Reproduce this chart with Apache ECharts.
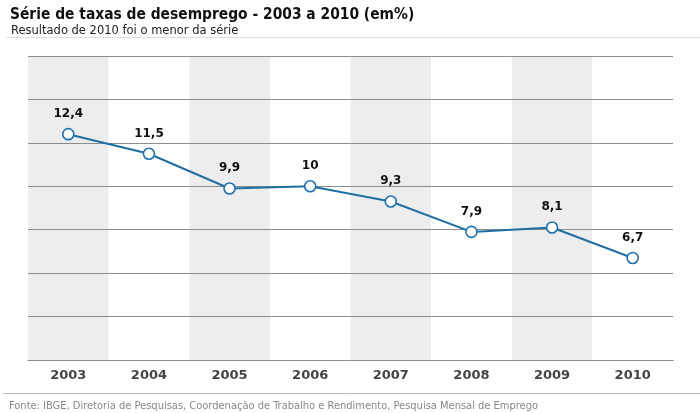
<!DOCTYPE html>
<html>
<head>
<meta charset="utf-8">
<script src="https://cdn.jsdelivr.net/npm/echarts@6/dist/echarts.min.js"></script>
<style>
  html, body { margin: 0; padding: 0; background: #fff; }
  #chart { width: 700px; height: 413px; }
</style>
</head>
<body>
<div id="chart"></div>
<script>
// anos e taxas de desemprego (em %)
var anos = ['2003', '2004', '2005', '2006', '2007', '2008', '2009', '2010'];
var taxas = [12.4, 11.5, 9.9, 10, 9.3, 7.9, 8.1, 6.7];

var titulo = 'Série de taxas de desemprego - 2003 a 2010 (em%)';
var subtitulo = 'Resultado de 2010 foi o menor da série';
var fonte = 'Fonte: IBGE, Diretoria de Pesquisas, Coordenação de Trabalho e Rendimento, Pesquisa Mensal de Emprego';

var chart = echarts.init(document.getElementById('chart'));
chart.setOption({
  animation: false,
  title: [
    {
      text: titulo,
      left: 5, top: 2,
      textStyle: { fontFamily: 'DejaVu Sans Condensed, DejaVu Sans', fontSize: 15.4, fontWeight: 'bold', color: '#111' }
    },
    {
      text: subtitulo,
      left: 6, top: 20,
      textStyle: { fontFamily: 'DejaVu Sans', fontSize: 11.5, fontWeight: 'normal', color: '#222' }
    },
    {
      text: fonte,
      left: 4, top: 396,
      textStyle: { fontFamily: 'DejaVu Sans Condensed, DejaVu Sans', fontSize: 11, fontWeight: 'normal', color: '#888' }
    }
  ],
  graphic: [
    { type: 'line', shape: { x1: 6, y1: 37.5, x2: 700, y2: 37.5 }, style: { stroke: '#ddd', lineWidth: 1 } },
    { type: 'line', shape: { x1: 3, y1: 393.5, x2: 700, y2: 393.5 }, style: { stroke: '#bbb', lineWidth: 1 } }
  ],
  grid: { left: 28, right: 27, top: 56, bottom: 53 },
  xAxis: {
    type: 'category',
    data: anos,
    boundaryGap: true,
    z: 0,
    axisLine: { lineStyle: { color: '#777', width: 1 } },
    axisTick: { show: false },
    axisLabel: { margin: 9, fontFamily: 'DejaVu Sans', fontSize: 13, fontWeight: 'bold', color: '#444' },
    splitArea: { show: true, areaStyle: { color: ['#ededed', '#ffffff'] } }
  },
  yAxis: {
    type: 'value',
    min: 2, max: 16, interval: 2,
    z: 1,
    axisLabel: { show: false },
    axisLine: { show: false },
    axisTick: { show: false },
    splitLine: { lineStyle: { color: '#8c8c8c', width: 1 } }
  },
  series: [{
    type: 'line',
    data: taxas,
    z: 3,
    symbol: 'circle',
    symbolSize: 11,
    lineStyle: { color: '#1f6fa3', width: 2 },
    itemStyle: { color: '#ffffff', borderColor: '#1a72b8', borderWidth: 1.6 },
    label: {
      show: true,
      position: 'top',
      distance: 8,
      fontFamily: 'DejaVu Sans',
      fontSize: 12,
      fontWeight: 'bold',
      color: '#111',
      formatter: function (p) { return String(p.value).replace('.', ','); }
    }
  }]
});
</script>
</body>
</html>
